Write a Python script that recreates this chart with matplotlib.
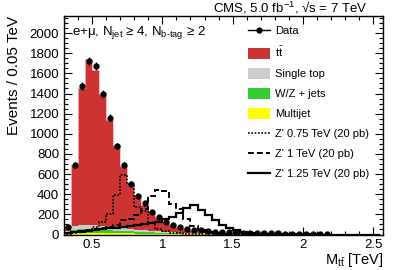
import numpy as np
import matplotlib
matplotlib.use("Agg")
import matplotlib.pyplot as plt
from matplotlib.lines import Line2D
from matplotlib.patches import Patch
from matplotlib.ticker import MultipleLocator, FuncFormatter

plt.rcParams["font.family"] = "sans-serif"
plt.rcParams["font.sans-serif"] = ["Liberation Sans", "DejaVu Sans"]
plt.rcParams["mathtext.fontset"] = "custom"
plt.rcParams["mathtext.rm"] = "Liberation Sans"
plt.rcParams["mathtext.it"] = "Liberation Sans:italic"
plt.rcParams["mathtext.bf"] = "Liberation Sans:bold"

C_TT = "#cc3333"
C_STOP = "#cccccc"
C_WZ = "#33cc33"
C_QCD = "#ffff00"

# bin edges, 0.05 TeV wide, from 0.30 TeV
edges = np.round(0.30 + 0.05 * np.arange(46), 2)

multijet = [5, 12, 15, 15, 15, 14, 13, 12, 11, 10,
            9, 8, 7, 6, 5, 4, 4, 3, 3, 2,
            2, 2, 1.5, 1.5, 1, 1, 1, 1, 1, 0.5,
            0.5, 0.5, 0.5, 0.5, 0.5, 0.3, 0.3, 0.3, 0.3, 0.3,
            0.2, 0.2, 0.2, 0.2, 0.2]
wjets = [10, 28, 35, 36, 35, 33, 30, 27, 24, 21,
         18, 15, 13, 11, 9, 8, 7, 6, 5, 4,
         4, 3, 3, 2, 2, 2, 1.5, 1.5, 1, 1,
         1, 0.8, 0.8, 0.6, 0.6, 0.5, 0.5, 0.4, 0.4, 0.3,
         0.3, 0.3, 0.2, 0.2, 0.2]
single_top = [15, 40, 45, 45, 43, 40, 36, 32, 28, 24,
              21, 18, 15, 13, 11, 9, 8, 7, 6, 5,
              4, 4, 3, 3, 2, 2, 2, 1.5, 1.5, 1,
              1, 1, 0.8, 0.8, 0.6, 0.6, 0.5, 0.5, 0.4, 0.4,
              0.3, 0.3, 0.3, 0.2, 0.2]
ttbar = [58, 612, 1359, 1642, 1543, 1310, 1060, 813, 616, 458,
         347, 249, 197, 140, 105, 79, 57, 44, 31, 27,
         22, 18, 15, 13, 11, 9, 8, 7, 6, 5.5,
         5, 4.5, 4, 3.5, 3, 2.8, 2.5, 2.2, 2, 1.8,
         1.6, 1.4, 1.2, 1.1, 1.0]
data = [78, 690, 1475, 1720, 1675, 1400, 1160, 880, 690, 505,
        383, 308, 225, 175, 124, 93, 75, 54, 43, 40,
        33, 28, 24, 21, 19, 17, 15, 13, 12, 11,
        10, 9, 9, 8, 7, 6, 6, 5, 0, 0,
        0, 0, 0, 0, 0]
zp075 = [5, 10, 20, 40, 70, 125, 208, 389, 587, 505,
         275, 230, 110, 55, 30, 18, 12, 8, 5, 4,
         3, 2, 2, 1, 1, 1, 0.5, 0.5, 0.5, 0,
         0, 0, 0, 0, 0, 0, 0, 0, 0, 0,
         0, 0, 0, 0, 0]
zp100 = [10, 20, 30, 40, 50, 60, 75, 90, 140, 150,
         190, 250, 380, 440, 435, 300, 250, 150, 80, 45,
         25, 14, 8, 5, 3, 2, 1, 1, 0.5, 0.5,
         0, 0, 0, 0, 0, 0, 0, 0, 0, 0,
         0, 0, 0, 0, 0]
zp125 = [10, 20, 28, 35, 42, 50, 60, 68, 78, 88,
         95, 105, 115, 125, 150, 170, 210, 260, 293, 243,
         193, 143, 93, 60, 43, 27, 15, 8, 5, 4,
         3, 2, 1, 1, 0.5, 0.5, 0, 0, 0, 0,
         0, 0, 0, 0, 0]

fig = plt.figure(figsize=(3.99, 2.70), dpi=100)
ax = fig.add_axes([64 / 399, 1 - 234.5 / 270, 319 / 399, 218.5 / 270])

# stacked backgrounds, bottom to top
stack = [(multijet, C_QCD), (wjets, C_WZ), (single_top, C_STOP), (ttbar, C_TT)]
base = np.zeros(len(edges) - 1)
for vals, col in stack:
    top = base + np.asarray(vals, float)
    ax.stairs(top, edges, baseline=base, fill=True, color=col, lw=0, zorder=2)
    base = top
ax.stairs(base, edges, color="#f0b8b8", lw=0.6, zorder=2.1)

# Z' signals
ax.stairs(zp075, edges, color="k", lw=1.2, ls=(0, (1, 1)), zorder=3)
ax.stairs(zp100, edges, color="k", lw=1.4, ls=(0, (3, 1.6)), zorder=3)
ax.stairs(zp125, edges, color="k", lw=1.6, zorder=3)

# data
centers = 0.5 * (edges[:-1] + edges[1:])
d = np.asarray(data, float)
m = d > 0
ax.errorbar(centers[m], d[m], yerr=np.sqrt(d[m]), fmt="o", ms=3.5,
            color="k", elinewidth=1.0, capsize=0, zorder=4)

ax.set_xlim(0.30, 2.57)
ax.set_ylim(0, 2170)
ax.xaxis.set_major_locator(MultipleLocator(0.5))
ax.xaxis.set_minor_locator(MultipleLocator(0.1))
ax.yaxis.set_major_locator(MultipleLocator(200))
ax.yaxis.set_minor_locator(MultipleLocator(50))
ax.xaxis.set_major_formatter(FuncFormatter(lambda v, p: f"{v:g}"))
ax.tick_params(which="both", direction="in", top=True, right=True,
               labelsize=9.5, width=0.8)
ax.tick_params(which="major", length=6)
ax.tick_params(which="minor", length=3)
ax.tick_params(axis="x", pad=3)
for s in ax.spines.values():
    s.set_linewidth(1.0)

ax.set_ylabel("Events / 0.05 TeV", fontsize=11, loc="top", labelpad=6)
ax.set_xlabel(r"M$_{\mathrm{t}\bar{\mathrm{t}}}$ [TeV]", fontsize=10.5,
              loc="right", labelpad=0)

ax.text(0.025, 0.925, r"e+μ, N$_{\mathrm{jet}}$ ≥ 4, N$_{\mathrm{b\text{-}tag}}$ ≥ 2",
        transform=ax.transAxes, fontsize=9.5, ha="left", va="center")
fig.text(0.727, 0.952, "CMS, 5.0 fb$^{-1}$, √s = 7 TeV",
         fontsize=9.5, ha="center", va="baseline")

handles = [
    Line2D([], [], color="k", marker="o", ms=3.5, lw=1.0),
    Patch(facecolor=C_TT, edgecolor="none"),
    Patch(facecolor=C_STOP, edgecolor="none"),
    Patch(facecolor=C_WZ, edgecolor="none"),
    Patch(facecolor=C_QCD, edgecolor="none"),
    Line2D([], [], color="k", lw=1.2, ls=(0, (1, 1))),
    Line2D([], [], color="k", lw=1.4, ls=(0, (3, 1.6))),
    Line2D([], [], color="k", lw=1.6),
]
labels = ["Data", r"$\mathrm{t}\bar{\mathrm{t}}$", "Single top", "W/Z + jets",
          "Multijet", "Z' 0.75 TeV (20 pb)", "Z' 1 TeV (20 pb)",
          "Z' 1.25 TeV (20 pb)"]
ax.legend(handles, labels, loc="upper left", bbox_to_anchor=(0.577, 0.958),
          frameon=False, fontsize=8, handlelength=2.0, handleheight=1.1,
          handletextpad=0.4, labelspacing=0.8, borderpad=0, borderaxespad=0)

fig.savefig("out.png", dpi=100)
plt.close(fig)
